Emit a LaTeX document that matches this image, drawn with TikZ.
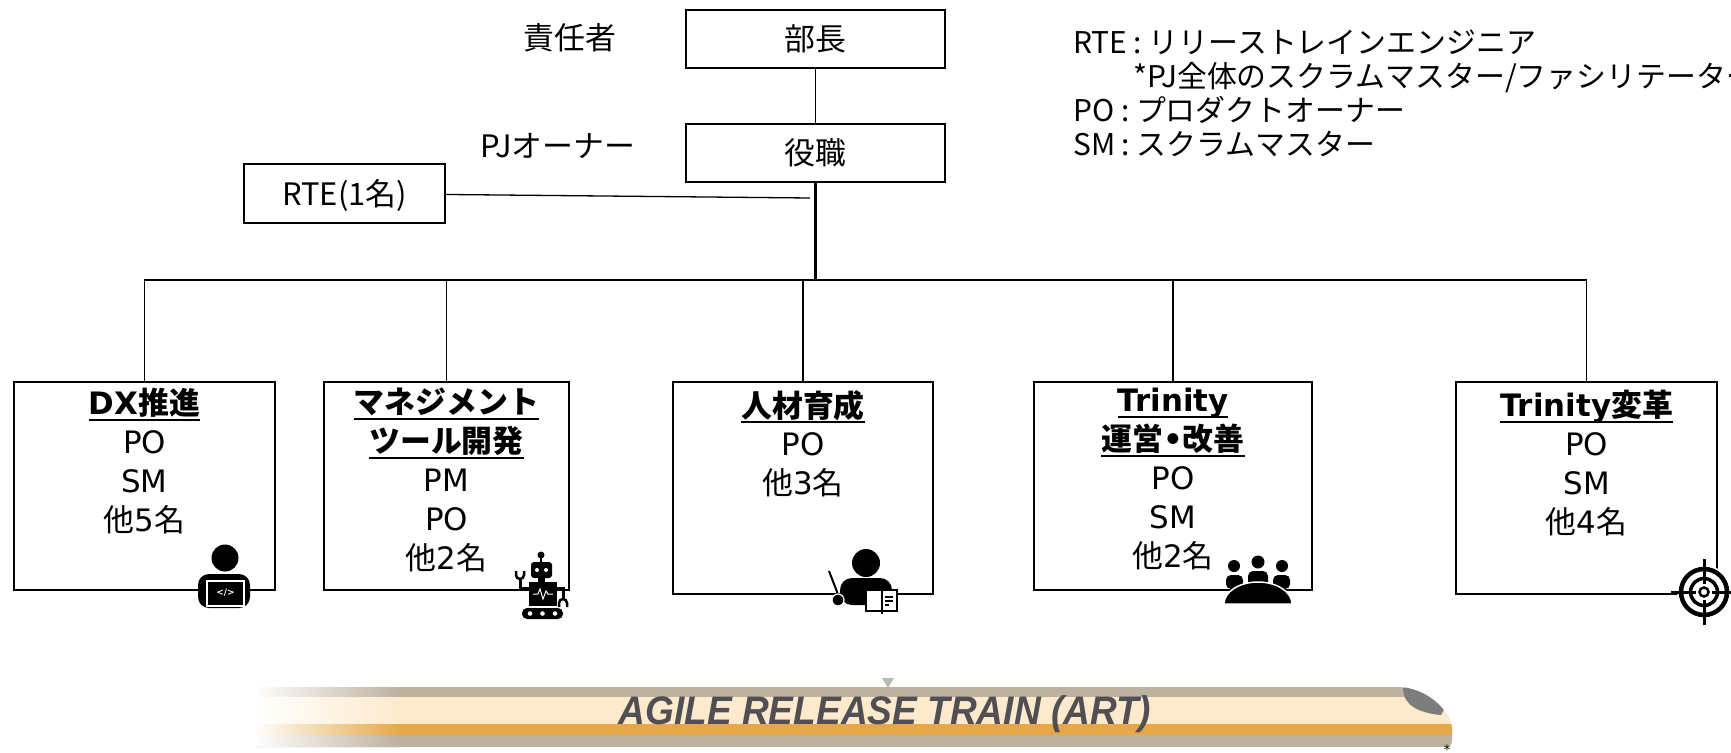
\documentclass[tikz,border=0pt]{standalone}
\usepackage{fontspec}
\setmainfont{Noto Sans CJK JP}
\newfontfamily\lat{DejaVu Sans}
\newfontfamily\trainfont[FakeStretch=0.93]{Liberation Sans}

\definecolor{traintan}{RGB}{189,177,160}
\definecolor{traincream}{RGB}{253,234,204}
\definecolor{trainorange}{RGB}{228,168,74}
\definecolor{trainwindow}{RGB}{125,125,125}
\definecolor{trainlabel}{RGB}{80,80,84}

% underlined team title
\newcommand{\ulined}[1]{\setbox0=\hbox{#1}\rlap{\rule[-6pt]{\wd0}{2pt}}\box0}

\tikzset{
  headbox/.style={draw, line width=2.2bp, minimum width=259bp, minimum height=58bp, inner sep=0pt, text depth=0.2em},
  teambox/.style={draw, line width=2.5bp, inner sep=0pt},
  teamtext/.style={anchor=north, align=center, inner sep=0pt},
  conn/.style={line width=1.3bp},
  trunk/.style={line width=2.6bp}
}

\begin{document}
\begin{tikzpicture}[x=1bp, y=-1bp, font=\fontsize{31}{39}\selectfont]
\useasboundingbox (0,0) rectangle (1731,753);
\clip (0,0) rectangle (1731,753);

% owner boxes
\node[headbox] (buchou) at (815.5,39) {部長};
\node[headbox] (yakushoku) at (815.5,153) {役職};
\node (sekinin) at (570,38) {責任者};
\node (pjowner) at (558,146) {PJオーナー};
\node[headbox, minimum width=201bp, minimum height=59bp] (rte) at (344.5,193.5) {RTE(1名)};

% legend
\node[anchor=north west, align=left, inner sep=0pt, font=\fontsize{30}{34}\selectfont] (legend) at (1073,30)
  {RTE : リリーストレインエンジニア\\
   \hspace*{60bp}*PJ全体のスクラムマスター/ファシリテーター\\
   PO : プロダクトオーナー\\
   SM : スクラムマスター};

% teams
\node[teambox, minimum width=261bp, minimum height=208bp] (dx) at (144.5,486) {};
\node[teambox, minimum width=245bp, minimum height=208bp] (mgmt) at (446.5,486) {};
\node[teambox, minimum width=260bp, minimum height=212bp] (jinzai) at (803,488) {};
\node[teambox, minimum width=278bp, minimum height=208bp] (trinops) at (1173,486) {};
\node[teambox, minimum width=261bp, minimum height=212bp] (henkaku) at (1586.5,488) {};

\node[teamtext] (dxtext) at (144.5,388) {\ulined{\textbf{{\lat DX}推進}}\\{\lat PO}\\{\lat SM}\\他{\lat 5}名};
\node[teamtext] (mgmttext) at (446.5,388) {\ulined{\textbf{マネジメント}}\\\ulined{\textbf{ツール開発}}\\{\lat PM}\\{\lat PO}\\他{\lat 2}名};
\node[teamtext] (jinzaitext) at (803,390) {\ulined{\textbf{人材育成}}\\{\lat PO}\\他{\lat 3}名};
\node[teamtext] (trinopstext) at (1173,388) {\ulined{\textbf{\lat Trinity}}\\\ulined{\textbf{運営{\lat •}改善}}\\{\lat PO}\\{\lat SM}\\他{\lat 2}名};
\node[teamtext] (henkakutext) at (1586.5,390) {\ulined{\textbf{{\lat Trinity}変革}}\\{\lat PO}\\{\lat SM}\\他{\lat 4}名};

% connectors
\coordinate (bus) at (815.5,280);
\coordinate (rtejoin) at (810,198);
\draw[conn] (buchou) -- (yakushoku);
\draw[trunk] (yakushoku) -- (bus);
\draw[conn] (rte) -- (rtejoin);
\foreach \t in {dx,mgmt,jinzai,trinops,henkaku}
  \draw[conn] (\t.north) |- (bus);

% icon: coder at laptop
\fill (225,558) circle (13.5);
\fill[rounded corners=11bp] (198,608) -- (198,574) -- (250,574) -- (250,608) -- cycle;
\filldraw[fill=black, draw=white, line width=1.5bp] (207,581) rectangle (244,606);
\node[text=white, font=\lat\bfseries\fontsize{9}{9}\selectfont, inner sep=0pt] (code) at (225.5,593) {</>};

% icon: robot
\fill (541,555) circle (3.5);
\draw[line width=2bp] (541,555) -- (541,563);
\fill[rounded corners=3bp] (531,562) rectangle (552,578);
\fill[white] (537,570) circle (2) (546,570) circle (2);
\fill (538,577) rectangle (545,583);
\fill (529,582) rectangle (557,606);
\draw[white, line width=1bp] (533,594) -- (538,594) -- (540,589) -- (543,599) -- (546,591) -- (548,594) -- (553,594);
\draw[line width=3bp] (529,588) -- (520,588) -- (520,578);
\draw[line width=2.5bp] (516,571) -- (516,575) arc[start angle=180, end angle=0, radius=4] -- (524,571);
\draw[line width=3bp] (557,588) -- (563,588) -- (563,600);
\draw[line width=2.5bp] (559,607) -- (559,603) arc[start angle=180, end angle=360, radius=4] -- (567,607);
\fill[rounded corners=5bp] (522,608) rectangle (563,619);
\fill[white] (530,613.5) circle (2.3) (542.5,613.5) circle (2.3) (555,613.5) circle (2.3);

% icon: teacher with book
\fill (866,563) circle (14);
\fill[rounded corners=12bp] (840,605) -- (840,578) -- (892,578) -- (892,605) -- cycle;
\draw[line width=2bp] (829,571) -- (839,597);
\filldraw[fill=black, draw=white, line width=1.2bp] (838,600) circle (6);
\filldraw[fill=white, draw=black, line width=2.2bp] (866,590) rectangle (897,611);
\draw[line width=2bp] (881.5,590) -- (881.5,614);
\draw[line width=1.5bp] (885,597) -- (893,597) (885,601) -- (893,601) (885,605) -- (889,605);

% icon: meeting
\fill (1234,566) circle (6) (1258,562) circle (6.5) (1282,566) circle (6);
\fill[rounded corners=5bp] (1226,589) -- (1226,575) -- (1243,575) -- (1243,589) -- cycle;
\fill[rounded corners=5bp] (1248,587) -- (1248,571) -- (1268,571) -- (1268,587) -- cycle;
\fill[rounded corners=5bp] (1273,589) -- (1273,575) -- (1290,575) -- (1290,589) -- cycle;
\filldraw[fill=black, draw=white, line width=1.5bp] (1224,604) arc[start angle=180, end angle=360, x radius=34, y radius=22] -- cycle;

% icon: target
\fill[white] (1704,592) circle (27);
\draw[line width=4.5bp] (1704,592) circle (23);
\draw[line width=3.5bp] (1704,592) circle (13.5);
\draw[line width=2.5bp] (1704,592) circle (4.5);
\draw[line width=3bp] (1704,559) -- (1704,584) (1704,600) -- (1704,625) (1671,592) -- (1696,592) (1712,592) -- (1737,592);

% train
\begin{scope}
  \clip (254,687) -- (1399,687) .. controls (1425,688) and (1449,708) .. (1452,728) -- (1452,739)
    .. controls (1452,745) and (1450,747) .. (1445,747) -- (254,747) -- cycle;
  \fill[traintan] (250,680) rectangle (1460,750);
  \fill[traincream] (250,697) rectangle (1460,724);
  \fill[trainorange] (250,724) rectangle (1460,735);
  \fill[trainwindow] (1403,688) .. controls (1403,706) and (1420,713) .. (1441,715) -- (1460,680) -- cycle;
  \foreach \c/\ya/\yb in {traintan/686/697, traincream/697/724, trainorange/724/735, traintan/735/748}
    \shade[left color=white, right color=\c] (253,\ya) rectangle (400,\yb);
\end{scope}
\fill[gray!55] (882,678) -- (894,678) -- (888,688) -- cycle;
\node[font=\trainfont\bfseries\itshape\fontsize{40}{40}\selectfont, text=trainlabel] (art) at (885,714) {AGILE RELEASE TRAIN (ART)};
\node[font=\lat\fontsize{13}{13}\selectfont, inner sep=0pt] (star) at (1447,750) {*};
\end{tikzpicture}
\end{document}
